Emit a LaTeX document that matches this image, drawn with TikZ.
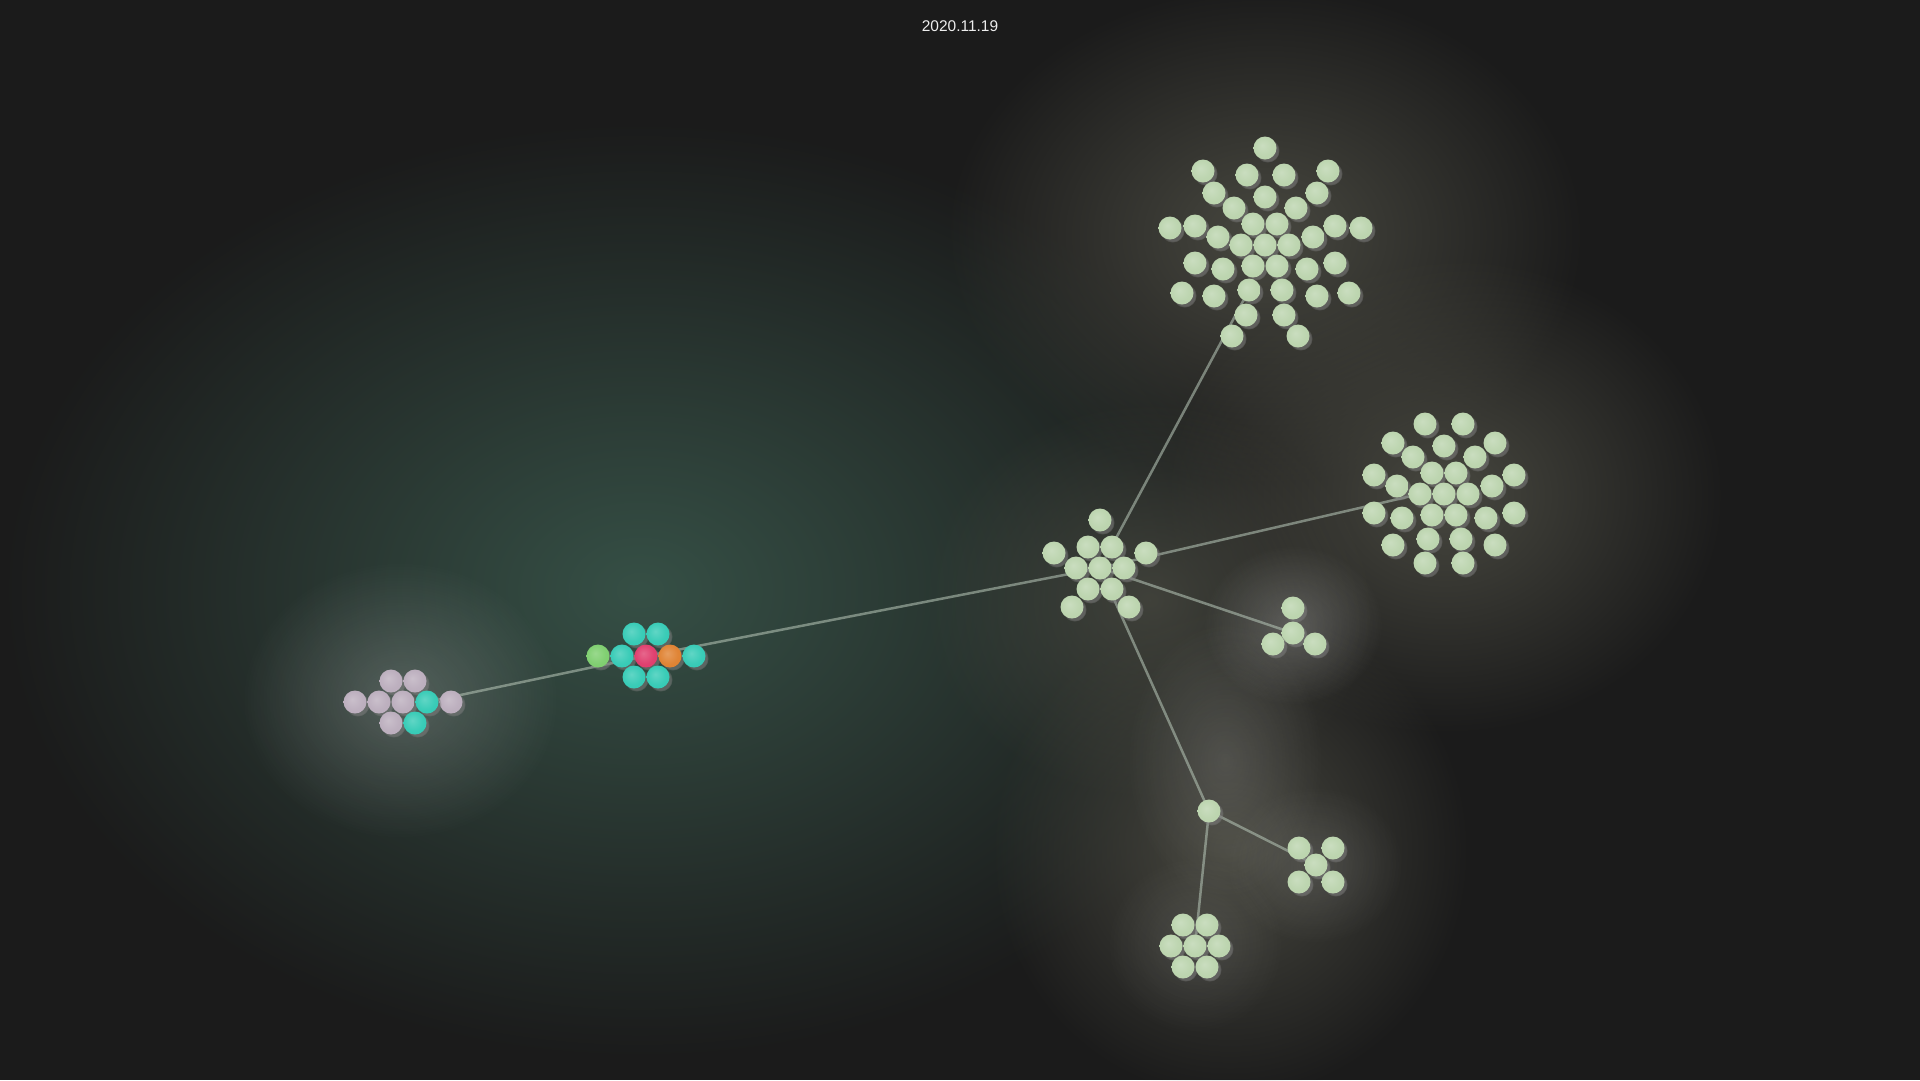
\documentclass[tikz,border=0pt]{standalone}
\usepackage{fontspec}
\setmainfont{Liberation Sans}
\usetikzlibrary{shadows,fadings}

\definecolor{bgdark}{RGB}{27,27,27}
\definecolor{leafc}{RGB}{184,210,170}
\definecolor{tealc}{RGB}{44,200,178}
\definecolor{pinkc}{RGB}{222,52,102}
\definecolor{orangec}{RGB}{222,124,40}
\definecolor{limec}{RGB}{120,204,104}
\definecolor{mauvec}{RGB}{184,170,186}
\definecolor{linkc}{RGB}{175,190,176}
\definecolor{hazeteal}{RGB}{54,80,70}
\definecolor{hazegray}{RGB}{72,72,64}

% matte balls, light spot a bit up left
\newcommand\ballshade[2]{\pgfdeclareradialshading{#1}{\pgfpoint{-6bp}{6bp}}{color(0bp)=(#2!75!white); color(20bp)=(#2!93!white); color(40bp)=(#2); color(50bp)=(#2!85!black)}}
\ballshade{leafshade}{leafc}
\ballshade{tealshade}{tealc}
\ballshade{pinkshade}{pinkc}
\ballshade{orangeshade}{orangec}
\ballshade{limeshade}{limec}
\ballshade{mauveshade}{mauvec}

% soft glow
\tikzfading[name=hazefade, inner color=transparent!0, outer color=transparent!100]

\pgfdeclarelayer{haze}
\pgfdeclarelayer{links}
\pgfsetlayers{haze,links,main}

\tikzset{
  ball/.style={circle, minimum size=23pt, inner sep=0pt,
    circular drop shadow={shadow xshift=2.5pt, shadow yshift=-2.5pt, shadow scale=1.05, opacity=0.55}},
  leaf/.style={ball, shading=leafshade},
  tealball/.style={ball, shading=tealshade},
  pinkball/.style={ball, shading=pinkshade},
  orangeball/.style={ball, shading=orangeshade},
  limeball/.style={ball, shading=limeshade},
  mauveball/.style={ball, shading=mauveshade},
  link/.style={draw=linkc, line width=2.5pt, draw opacity=0.6},
  haze/.style={path fading=hazefade},
}

\begin{document}
\begin{tikzpicture}[x=1pt, y=-1pt]
	\useasboundingbox (0,0) rectangle (1920,1080);
	
	\begin{pgfonlayer}{haze}
		\fill[bgdark] (0,0) rectangle (1920,1080);
		% big teal glow on the left half
		\fill[hazeteal, haze] (640,590) ellipse [x radius=640pt, y radius=470pt];
		% gray glow round the right clusters
		\fill[hazegray, haze] (1265,235) ellipse [x radius=320pt, y radius=250pt];
		\fill[hazegray, haze] (1445,495) ellipse [x radius=280pt, y radius=240pt];
		\fill[hazegray, haze, opacity=0.8] (1150,600) ellipse [x radius=230pt, y radius=200pt];
		\fill[hazegray, haze] (1230,850) ellipse [x radius=240pt, y radius=250pt];
		% brighter spots
		\fill[white, haze, opacity=0.2] (400,700) ellipse [x radius=160pt, y radius=140pt];
		\fill[white, haze, opacity=0.22] (1293,625) ellipse [x radius=90pt, y radius=80pt];
		\fill[white, haze, opacity=0.12] (1225,760) ellipse [x radius=100pt, y radius=140pt];
		\fill[white, haze, opacity=0.12] (1315,865) ellipse [x radius=90pt, y radius=80pt];
		\fill[white, haze, opacity=0.1] (1195,945) ellipse [x radius=90pt, y radius=90pt];
	\end{pgfonlayer}
	
	\node[text=white!93!black, font=\fontsize{15.5}{18}\selectfont] (title) at (960,26) {2020.11.19};
	
	% top cluster
	\foreach \n/\x/\y in {1/1265/148, 2/1203/171, 3/1247/175, 4/1284/175, 5/1328/171, 6/1214/193, 7/1265/197, 8/1317/193, 9/1234/208, 10/1296/208, 11/1170/228, 12/1195/226, 13/1253/224, 14/1277/224, 15/1335/226, 16/1361/228, 17/1218/237, 18/1241/245, 19/1265/245, 20/1289/245, 21/1313/237, 22/1195/263, 23/1223/269, 24/1253/266, 25/1277/266, 26/1307/269, 27/1335/263, 28/1182/293, 29/1214/296, 30/1249/290, 31/1282/290, 32/1317/296, 33/1349/293, 34/1246/315, 35/1284/315, 36/1232/336, 37/1298/336}
		\node[leaf] (t\n) at (\x,\y) {};
	
	% right cluster
	\foreach \n/\x/\y in {1/1425/424, 2/1463/424, 3/1393/443, 4/1444/446, 5/1495/443, 6/1413/457, 7/1475/457, 8/1374/475, 9/1432/473, 10/1456/473, 11/1514/475, 12/1397/486, 13/1420/494, 14/1444/494, 15/1468/494, 16/1492/486, 17/1374/513, 18/1402/518, 19/1432/515, 20/1456/515, 21/1486/518, 22/1514/513, 23/1393/545, 24/1428/539, 25/1461/539, 26/1495/545, 27/1425/563, 28/1463/563}
		\node[leaf] (r\n) at (\x,\y) {};
	
	% center cluster
	\foreach \n/\x/\y in {1/1100/520, 2/1054/553, 3/1088/547, 4/1112/547, 5/1146/553, 6/1076/568, 7/1100/568, 8/1124/568, 9/1088/589, 10/1112/589, 11/1072/607, 12/1129/607}
		\node[leaf] (c\n) at (\x,\y) {};
	
	% small groups
	\foreach \n/\x/\y in {1/1293/608, 2/1293/633, 3/1273/644, 4/1315/644}
		\node[leaf] (d\n) at (\x,\y) {};
	\node[leaf] (j) at (1209,811) {};
	\foreach \n/\x/\y in {1/1299/848, 2/1333/848, 3/1316/865, 4/1299/882, 5/1333/882}
		\node[leaf] (f\n) at (\x,\y) {};
	\foreach \n/\x/\y in {1/1183/925, 2/1207/925, 3/1171/946, 4/1195/946, 5/1219/946, 6/1183/967, 7/1207/967}
		\node[leaf] (h\n) at (\x,\y) {};
	
	% left cluster
	\foreach \n/\x/\y in {1/391/681, 2/415/681, 3/355/702, 4/379/702, 5/403/702, 7/451/702, 8/391/723}
		\node[mauveball] (l\n) at (\x,\y) {};
	\node[tealball] (l6) at (427,702) {};
	\node[tealball] (l9) at (415,723) {};
	
	% middle cluster
	\node[tealball] (m1) at (634,634) {};
	\node[tealball] (m2) at (658,634) {};
	\node[limeball] (m3) at (598,656) {};
	\node[tealball] (m4) at (622,656) {};
	\node[pinkball] (m5) at (646,656) {};
	\node[orangeball] (m6) at (670,656) {};
	\node[tealball] (m7) at (694,656) {};
	\node[tealball] (m8) at (634,677) {};
	\node[tealball] (m9) at (658,677) {};
	
	\begin{pgfonlayer}{links}
		\draw[link] (l6.center) -- (m5.center);
		\draw[link] (m5.center) -- (c7.center);
		\draw[link] (c7.center) -- (t30.center);
		\draw[link] (c7.center) -- (r13.center);
		\draw[link] (c7.center) -- (d2.center);
		\draw[link] (c7.center) -- (j.center);
		\draw[link] (j.center) -- (f3.center);
		\draw[link] (j.center) -- (h4.center);
	\end{pgfonlayer}
\end{tikzpicture}
\end{document}
